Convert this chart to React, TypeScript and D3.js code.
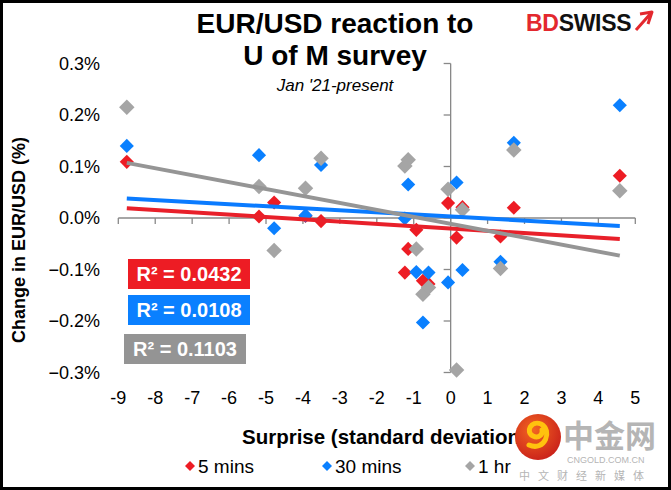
import React from 'react';
import * as d3 from 'd3';

// surprise (std dev) for each U of M release
const surprise = [-8.77, -5.19, -4.78, -3.93, -3.51, -1.24, -1.15, -0.93, -0.75, -0.6, -0.07, 0.16, 0.32, 1.35, 1.71, 4.58];
// EUR/USD change (%) after each release
const mins5 = [0.109, 0.003, 0.03, 0.004, -0.006, -0.106, -0.06, -0.023, -0.122, -0.128, 0.029, -0.038, 0.021, -0.036, 0.02, 0.082];
const mins30 = [0.14, 0.122, -0.02, 0.005, 0.103, -0.001, 0.065, -0.105, -0.203, -0.106, -0.125, 0.069, -0.101, -0.085, 0.146, 0.219];
const hr1 = [0.215, 0.061, -0.063, 0.058, 0.116, 0.101, 0.113, -0.06, -0.148, -0.135, 0.056, -0.295, 0.016, -0.098, 0.132, 0.053];

// fitted trend line values at the ends of the data range
const trendX = [-8.77, 4.58];
const trend5 = [0.019, -0.041];
const trend30 = [0.038, -0.0155];
const trend1h = [0.107, -0.073];

const seriesNames = ['5 mins', '30 mins', '1 hr'];
const rSquared = ['0.0432', '0.0108', '0.1103'];
const xTicks = [-9, -8, -7, -6, -5, -4, -3, -2, -1, 0, 1, 2, 3, 4, 5];
const yTicks = [0.3, 0.2, 0.1, 0, -0.1, -0.2, -0.3];

const RED = '#ED1C24';
const BLUE = '#0A80FF';
const GREY = '#A5A5A5';
const FONT = 'Arial, "Liberation Sans", sans-serif';

const App = () => {
  const width = 671;
  const height = 490;

  const x = d3.scaleLinear().domain([-9, 5]).range([118.3, 635.3]);
  const y = d3.scaleLinear().domain([-0.3, 0.3]).range([372.5, 63.5]);

  const line = d3.line<number>().x((d, i) => x(trendX[i])).y(d => y(d));
  const diamond = (size: number) => d3.symbol().type(d3.symbolSquare).size(size)() as string;

  const series = [
    { vals: mins5, color: RED, trend: trend5, trendColor: '#E8202A', size: 100 },
    { vals: mins30, color: BLUE, trend: trend30, trendColor: '#0A7BFF', size: 100 },
    { vals: hr1, color: GREY, trend: trend1h, trendColor: '#959595', size: 120 },
  ];

  const boxes = [
    { x: 128, y: 259, color: '#ED1C24' },
    { x: 128, y: 295, color: '#0A80FF' },
    { x: 124, y: 334, color: '#949494' },
  ];

  return (
    <svg width={width} height={height} style={{ position: 'absolute', left: 0, top: 0, background: '#fff' }}>
      <rect x={1.5} y={1.5} width={width - 3} height={height - 3} fill="#fff" stroke="#000" strokeWidth={3} />

      {/* title */}
      <g fontFamily={FONT} textAnchor="middle">
        <text x={335} y={33} fontSize={28} fontWeight="bold">EUR/USD reaction to</text>
        <text x={335} y={65} fontSize={28} fontWeight="bold">U of M survey</text>
        <text x={335} y={91} fontSize={17} fontStyle="italic">Jan '21-present</text>
      </g>

      {/* logo */}
      <g fontFamily={FONT} fontWeight="bold" fontSize={23}>
        <text x={526} y={31} letterSpacing={-0.3}>
          <tspan fill="#E3282E">BD</tspan>
          <tspan fill="#111">SWISS</tspan>
        </text>
        <path d="M636,30 L652,12 L640,14 M652,12 L648,24" fill="none" stroke="#E3282E" strokeWidth={3} strokeLinejoin="round" />
      </g>

      {/* axes */}
      <g stroke="#888" strokeWidth={1.3} fill="none">
        <line x1={x(-9)} x2={x(5)} y1={y(0)} y2={y(0)} />
        {xTicks.map(t => (
          <line key={t} x1={x(t)} x2={x(t)} y1={y(0)} y2={y(0) + 6} />
        ))}
        <line x1={x(0)} x2={x(0)} y1={y(0.3)} y2={y(-0.3)} />
        {yTicks.map(t => (
          <line key={t} x1={x(0) - 7} x2={x(0)} y1={y(t)} y2={y(t)} />
        ))}
      </g>

      {/* tick labels */}
      <g fontFamily={FONT} fontSize={18} fill="#000">
        {yTicks.map(t => (
          <text key={t} x={100} y={y(t) + 6} textAnchor="end">{d3.format('.1f')(t)}%</text>
        ))}
        {xTicks.map(t => (
          <text key={t} x={x(t)} y={404} textAnchor="middle">{t < 0 ? '-' + Math.abs(t) : t}</text>
        ))}
      </g>

      {/* points */}
      {series.map((s, k) => (
        <g key={k} fill={s.color}>
          {s.vals.map((v, i) => (
            <path key={i} d={diamond(s.size)} transform={`translate(${x(surprise[i])},${y(v)}) rotate(45)`} />
          ))}
        </g>
      ))}

      {/* trend lines */}
      {series.map((s, k) => (
        <path key={k} d={line(s.trend) as string} fill="none" stroke={s.trendColor} strokeWidth={4} />
      ))}

      {/* R squared boxes */}
      {boxes.map((b, k) => (
        <g key={k}>
          <rect x={b.x} y={b.y} width={122} height={30} fill={b.color} />
          <text x={b.x + 61} y={b.y + 22} textAnchor="middle" fontFamily={FONT} fontWeight="bold" fontSize={20} fill="#fff">
            R² = {rSquared[k]}
          </text>
        </g>
      ))}

      {/* axis titles */}
      <text transform="translate(25,240) rotate(-90)" textAnchor="middle" fontFamily={FONT} fontWeight="bold" fontSize={18}>
        Change in EUR/USD  (%)
      </text>
      <text x={242} y={444} fontFamily={FONT} fontWeight="bold" fontSize={20.5}>Surprise (standard deviations)</text>

      {/* legend */}
      <g fontFamily={FONT} fontSize={19}>
        {[190, 327, 470].map((lx, k) => (
          <g key={k}>
            <path d={diamond(50)} transform={`translate(${lx},466) rotate(45)`} fill={series[k].color} />
            <text x={lx + 8} y={473}>{seriesNames[k]}</text>
          </g>
        ))}
      </g>

      {/* watermark */}
      <defs>
        <radialGradient id="wm" cx="0.4" cy="0.35" r="0.7">
          <stop offset="0" stopColor="#F26522" />
          <stop offset="1" stopColor="#C9201A" />
        </radialGradient>
      </defs>
      <circle cx={538} cy={437} r={23} fill="url(#wm)" />
      <path d="M529,445 C545,452 553,430 541,424 C531,420 525,432 533,436 C539,439 543,434 542,430" fill="none" stroke="#FFC20E" strokeWidth={5} strokeLinecap="round" />
      <g fontFamily='"Noto Sans CJK SC", sans-serif' fill="#B5B5B5">
        <text x={563} y={447} fontSize={31} fontWeight="bold">中金网</text>
        <text x={567} y={463} fontSize={9} fontFamily={FONT}>CNGOLD.COM.CN</text>
        <text x={519} y={480} fontSize={11} letterSpacing={8}>中文财经新媒体</text>
      </g>
    </svg>
  );
};

export default App;
